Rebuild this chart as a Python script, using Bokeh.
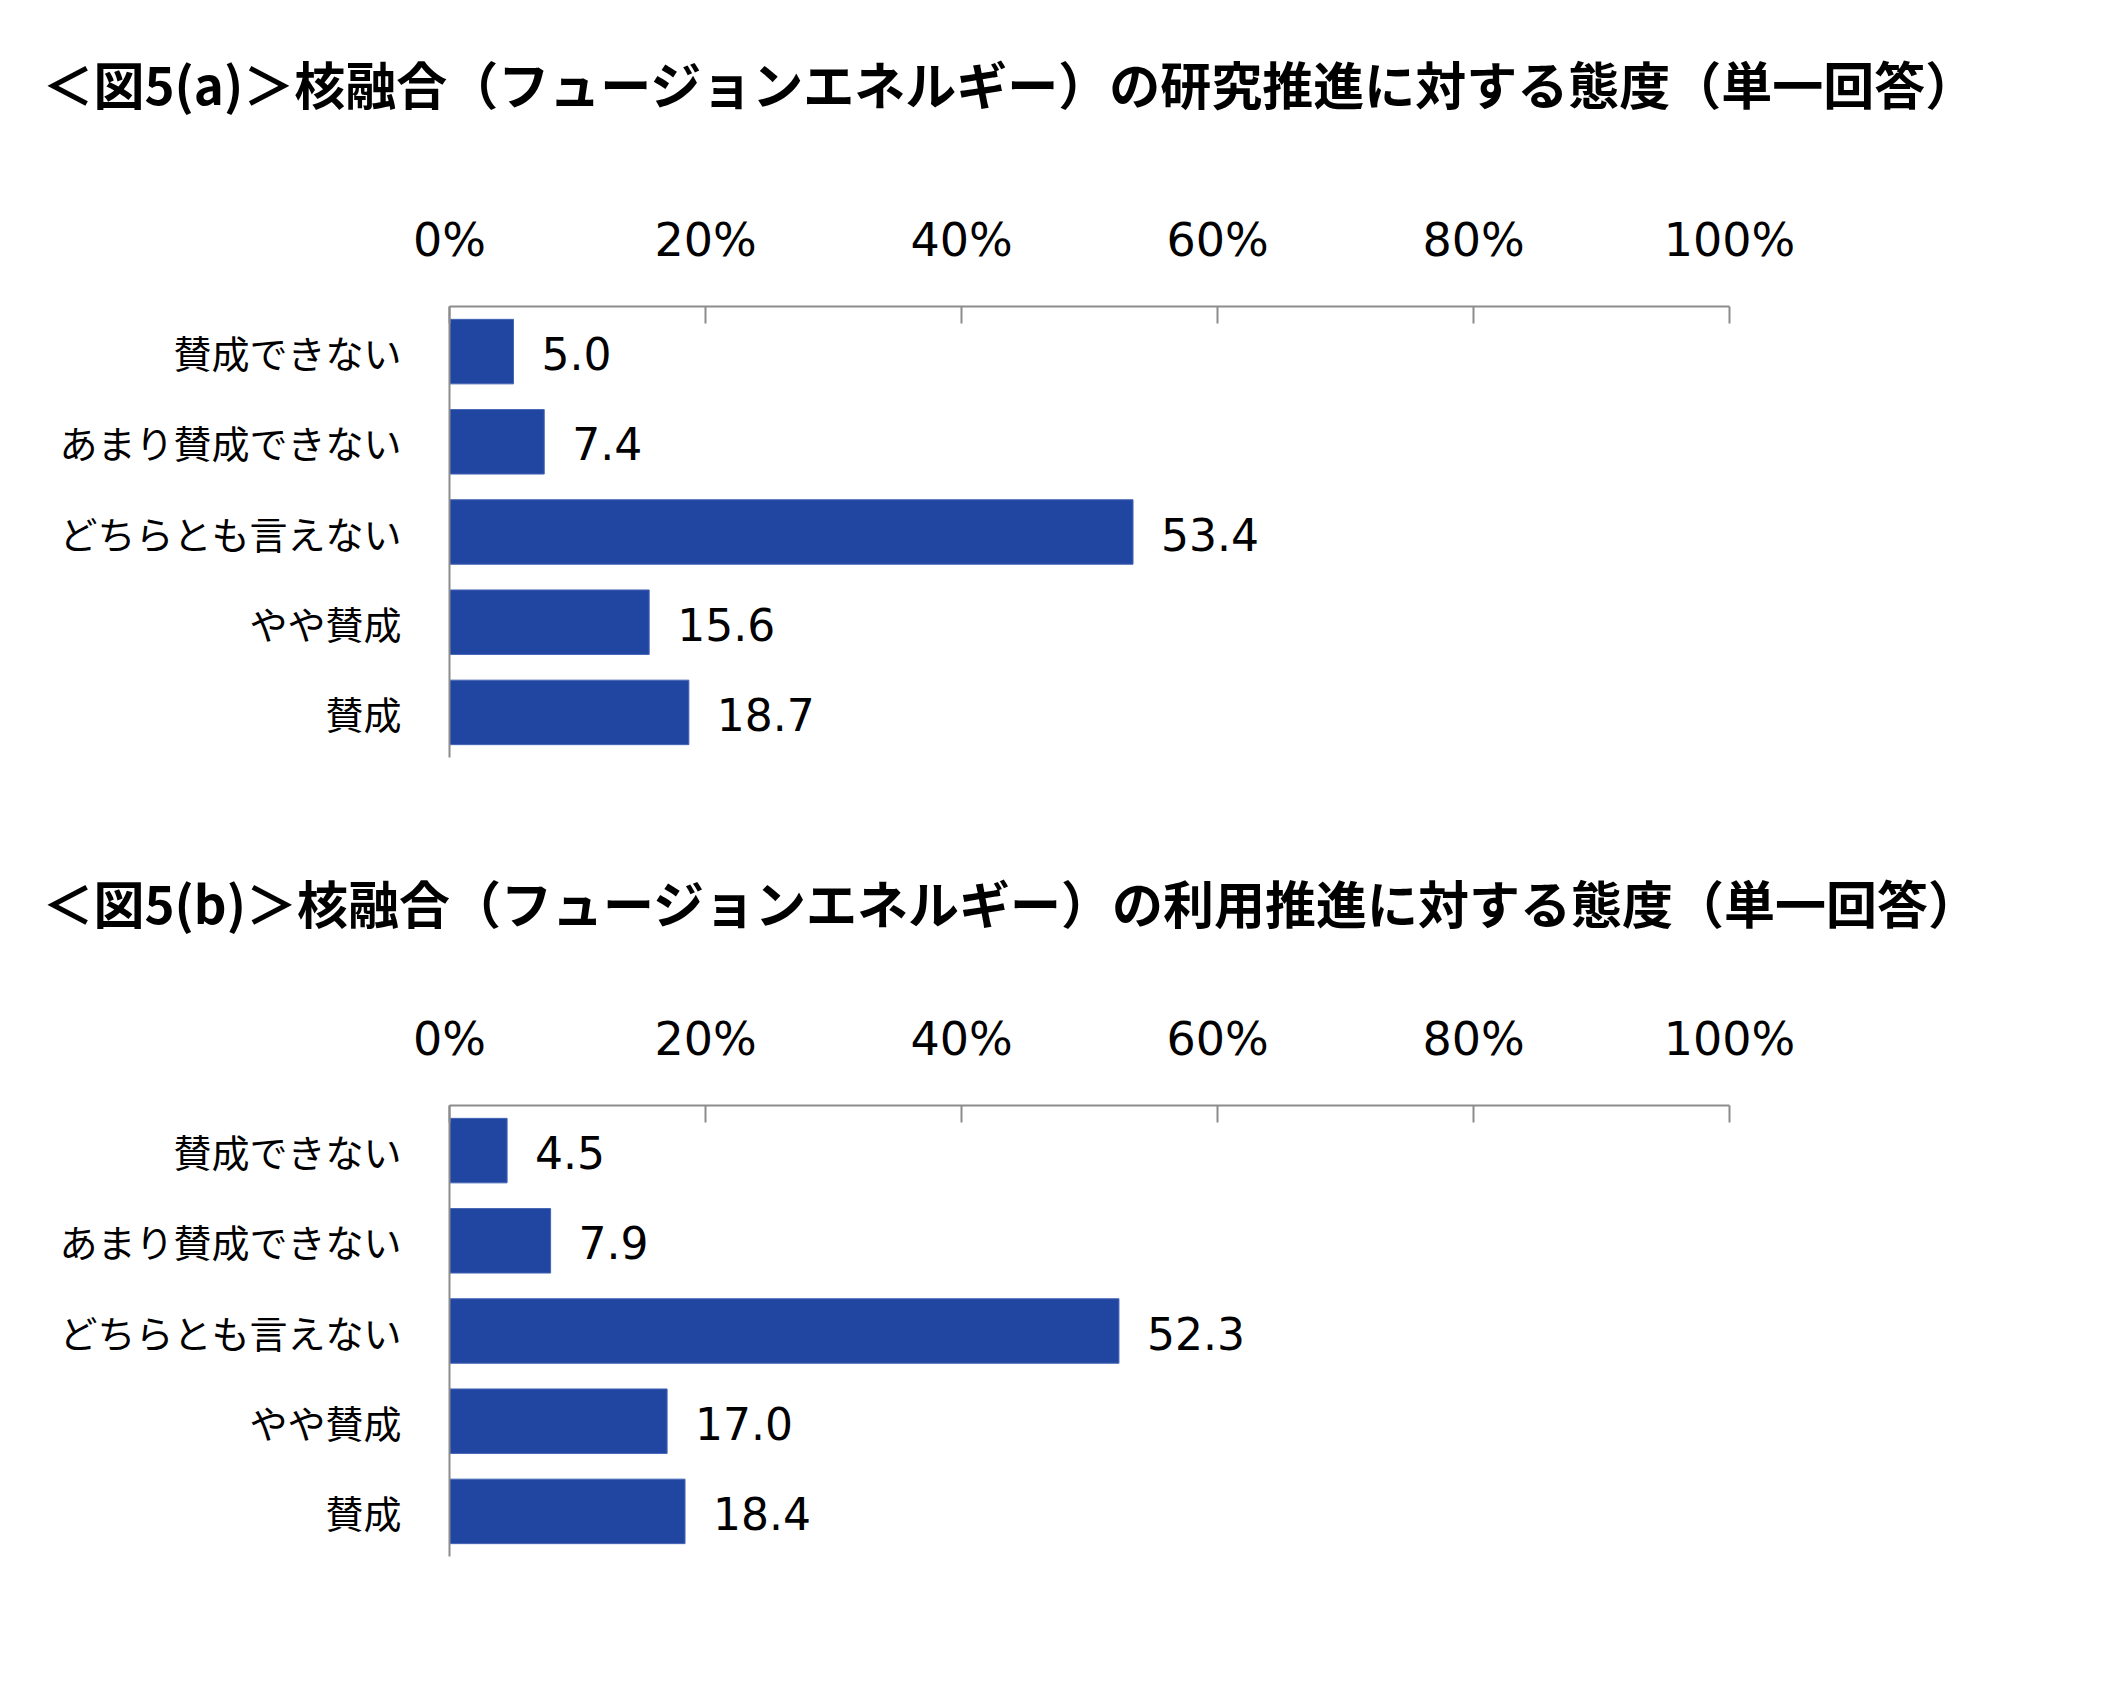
from bokeh.plotting import figure
from bokeh.models import FactorRange, Range1d, FixedTicker, ColumnDataSource, PrintfTickFormatter, Spacer
from bokeh.layouts import column
from bokeh.embed import file_html
from bokeh.resources import INLINE
from bokeh.core.properties import value

categories = ["賛成できない", "あまり賛成できない", "どちらとも言えない", "やや賛成", "賛成"]
values_a = [5.0, 7.4, 53.4, 15.6, 18.7]
values_b = [4.5, 7.9, 52.3, 17.0, 18.4]
title_a = "＜図5(a)＞核融合（フュージョンエネルギー）の研究推進に対する態度（単一回答）"
title_b = "＜図5(b)＞核融合（フュージョンエネルギー）の利用推進に対する態度（単一回答）"
ticks = [0, 20, 40, 60, 80, 100]

BAR = "#2146A1"
BAR_EDGE = "#4565B5"
AXIS = "#8C8C8C"
JP = "Noto Sans CJK JP"
NUM = "DejaVu Sans"
W = 2087
LEFT = 449
FRAME_W = 1280
RIGHT = W - LEFT - FRAME_W


def make_title(text, h):
    t = figure(width=W, height=h, x_range=Range1d(0, 1), y_range=Range1d(0, 1),
               output_backend="svg", toolbar_location=None,
               min_border_left=LEFT, min_border_right=RIGHT,
               min_border_top=0, min_border_bottom=0)
    t.axis.visible = False
    t.xgrid.visible = False
    t.ygrid.visible = False
    t.outline_line_color = None
    t.title.text = text
    t.title.text_font = JP
    t.title.text_font_style = "bold"
    t.title.text_font_size = "51px"
    t.title.text_color = "black"
    t.title.align = "left"
    t.title.offset = -(LEFT - 42)
    t.title.standoff = 0
    return t


def make_chart(vals, h, top):
    src = ColumnDataSource(dict(cat=categories, val=vals,
                                lab=["%.1f" % v for v in vals]))
    p = figure(width=W, height=h,
               y_range=FactorRange(factors=categories[::-1]),
               x_range=Range1d(0, 100),
               x_axis_location="above",
               output_backend="svg", toolbar_location=None,
               min_border_left=LEFT, min_border_right=RIGHT,
               min_border_top=top, min_border_bottom=h - top - 451)
    p.hbar(y="cat", left=0, right="val", height=0.715, source=src,
           fill_color=BAR, line_color=BAR_EDGE, line_width=1)
    p.text(x="val", y="cat", text="lab", source=src, x_offset=28, y_offset=2,
           text_baseline="middle", text_align="left",
           text_font=value(NUM), text_font_size="44px", text_color="black")

    xa = p.xaxis[0]
    xa.ticker = FixedTicker(ticks=ticks)
    xa.formatter = PrintfTickFormatter(format="%d%%")
    xa.axis_line_color = AXIS
    xa.axis_line_width = 2
    xa.major_tick_line_color = AXIS
    xa.major_tick_line_width = 2
    xa.major_tick_in = 17
    xa.major_tick_out = 0
    xa.minor_tick_line_color = None
    xa.major_label_text_font = NUM
    xa.major_label_text_font_size = "46px"
    xa.major_label_text_color = "black"
    xa.major_label_standoff = 40

    ya = p.yaxis[0]
    ya.axis_line_color = AXIS
    ya.axis_line_width = 2
    ya.major_tick_line_color = None
    ya.minor_tick_line_color = None
    ya.major_label_text_font = JP
    ya.major_label_text_font_size = "38px"
    ya.major_label_text_color = "black"
    ya.major_label_standoff = 42

    p.xgrid.visible = False
    p.ygrid.visible = False
    p.outline_line_color = None
    p.background_fill_color = "white"
    p.border_fill_color = "white"
    return p


sa = Spacer(width=W, height=43)
ta = make_title(title_a, 107)
ca = make_chart(values_a, 657, 156)
sb = Spacer(width=W, height=55)
tb = make_title(title_b, 95)
cb = make_chart(values_b, 649, 148)
layout = column(sa, ta, ca, sb, tb, cb, spacing=0)

open("out.html", "w").write(file_html(layout, INLINE))
